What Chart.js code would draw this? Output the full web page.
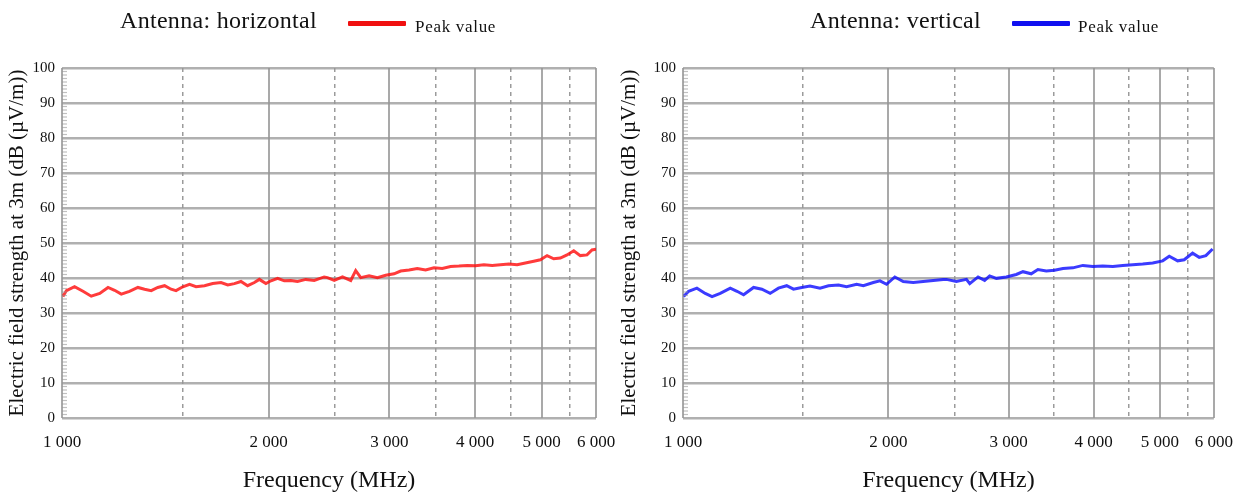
<!DOCTYPE html>
<html>
<head>
<meta charset="utf-8">
<script src="https://cdn.jsdelivr.net/npm/chart.js@4/dist/chart.umd.min.js"></script>
<style>
body{margin:0;background:#fff;width:1247px;height:497px;position:relative;overflow:hidden;font-family:"Liberation Serif",serif;color:#111;}
.cv{position:absolute;top:0}
.ttl{position:absolute;font-size:24px;line-height:24px;white-space:nowrap;letter-spacing:0.3px}
.lg{position:absolute;font-size:17px;line-height:17px;white-space:nowrap;letter-spacing:0.7px}
.sw{position:absolute;height:5px;width:58px;border-radius:1px}
</style>
</head>
<body>
<div class="cv" style="left:0"><canvas id="chartH" width="640" height="497"></canvas></div>
<div class="cv" style="left:612px"><canvas id="chartV" width="635" height="497"></canvas></div>

<div class="ttl" style="left:120px;top:8px">Antenna: horizontal</div>
<div class="sw" style="left:348px;top:21px;background:#f01010"></div>
<div class="lg" style="left:415px;top:18px">Peak value</div>

<div class="ttl" style="left:810px;top:8px">Antenna: vertical</div>
<div class="sw" style="left:1012px;top:21px;background:#1010f0"></div>
<div class="lg" style="left:1078px;top:18px">Peak value</div>

<script>
// tick values
var xMajor = [1000, 2000, 3000, 4000, 5000, 6000];
var xMinor = [1500, 2500, 3500, 4500, 5500];
var yMinor = [1,2,3,4,5,6,7,8,9,11,12,13,14,15,16,17,18,19,21,22,23,24,25,26,27,28,29,
	31,32,33,34,35,36,37,38,39,41,42,43,44,45,46,47,48,49,51,52,53,54,55,56,57,58,59,
	61,62,63,64,65,66,67,68,69,71,72,73,74,75,76,77,78,79,81,82,83,84,85,86,87,88,89,
	91,92,93,94,95,96,97,98,99];

// horizontal antenna, peak value (MHz / dB(uV/m))
var freqH = [1003,1015,1043,1073,1103,1135,1167,1193,1220,1254,1290,1319,1349,1379,1411,1442,1466,1500,1534,1568,
	1613,1658,1705,1744,1783,1823,1864,1907,1939,1982,2016,2062,2108,2155,2204,2266,2331,2410,
	2437,2493,2563,2635,2679,2725,2802,2882,2963,3047,3115,3204,3294,3387,3484,3582,3683,3788,3895,4005,
	4119,4235,4354,4479,4605,4734,4869,4979,5092,5207,5324,5444,5568,5692,5822,5920,6000];
var peakH = [34.7,36.4,37.5,36.2,34.8,35.6,37.3,36.5,35.4,36.2,37.3,36.8,36.4,37.3,37.8,36.8,36.4,37.5,38.2,37.5,
	37.8,38.4,38.7,38.0,38.4,39.0,37.8,38.7,39.6,38.4,39.2,39.9,39.2,39.3,39.0,39.6,39.3,40.3,
	40.1,39.3,40.3,39.3,42.1,40.1,40.6,40.1,40.8,41.2,42.0,42.3,42.7,42.3,42.9,42.7,43.3,43.4,43.6,43.5,
	43.8,43.6,43.8,44.0,43.8,44.3,44.8,45.2,46.4,45.5,45.7,46.6,47.8,46.4,46.6,48.0,48.2];

// vertical antenna, peak value
var freqV = [1002,1019,1048,1078,1103,1134,1173,1200,1227,1269,1305,1342,1380,1419,1452,1493,1535,1588,1634,1690,
	1737,1797,1838,1901,1944,1988,2044,2103,2175,2249,2327,2406,
	2433,2516,2603,2632,2707,2768,2815,2880,2978,3080,3150,3239,3313,3408,3504,3605,3728,3856,3988,4124,
	4266,4412,4563,4719,4881,5048,5161,5309,5428,5584,5710,5840,5974];
var peakV = [34.7,36.2,37.1,35.6,34.7,35.6,37.1,36.2,35.2,37.3,36.8,35.6,37.1,37.8,36.8,37.3,37.7,37.1,37.8,38.0,
	37.5,38.2,37.8,38.7,39.2,38.2,40.3,39.0,38.7,39.0,39.3,39.6,
	39.6,39.0,39.6,38.4,40.3,39.3,40.6,39.9,40.3,41.0,41.8,41.2,42.4,42.0,42.2,42.7,42.9,43.6,43.3,43.4,
	43.3,43.6,43.8,44.0,44.3,44.9,46.2,44.9,45.2,47.1,45.9,46.4,48.3];

var FONT = '"Liberation Serif", "Times New Roman", serif';

function fmt(v) {
	return String(v).replace(/\B(?=(\d{3})+(?!\d))/g, ' ');
}

var minorTicks = {
	id: 'minorTicks',
	afterDatasetsDraw: function (chart) {
		var ctx = chart.ctx, area = chart.chartArea, y = chart.scales.y;
		ctx.save();
		ctx.strokeStyle = 'rgba(150,150,150,0.6)';
		ctx.lineWidth = 1.2;
		yMinor.forEach(function (v) {
			var py = y.getPixelForValue(v);
			ctx.beginPath();
			ctx.moveTo(area.left, py);
			ctx.lineTo(area.left + 5, py);
			ctx.stroke();
		});
		ctx.restore();
	}
};

function makeChart(id, freq, peak, color, yWidth, padRight) {
	var ctx = document.getElementById(id).getContext('2d');
	return new Chart(ctx, {
		type: 'line',
		data: {
			datasets: [{
				label: 'Peak value',
				data: freq.map(function (f, i) { return { x: f, y: peak[i] }; }),
				borderColor: color,
				borderWidth: 3,
				pointRadius: 0,
				tension: 0
			}]
		},
		options: {
			responsive: false,
			animation: false,
			layout: { padding: { left: 0, top: 68, right: padRight, bottom: 0 } },
			plugins: { legend: { display: false }, tooltip: { enabled: false } },
			scales: {
				x: {
					type: 'logarithmic',
					min: 1000,
					max: 6000,
					afterBuildTicks: function (s) { s.ticks = xMajor.map(function (v) { return { value: v }; }); },
					afterFit: function (s) { s.height = 79; },
					ticks: {
						autoSkip: false,
						maxRotation: 0,
						minRotation: 0,
						padding: 14,
						color: '#111',
						font: { family: FONT, size: 17 },
						callback: function (v) { return fmt(v); }
					},
					grid: { color: 'rgba(140,140,140,0.75)', lineWidth: 2, drawTicks: false },
					border: { display: false },
					title: {
						display: true,
						text: 'Frequency (MHz)',
						color: '#111',
						font: { family: FONT, size: 24 },
						padding: { top: 0, bottom: 2 }
					}
				},
				x2: {
					type: 'logarithmic',
					position: 'bottom',
					min: 1000,
					max: 6000,
					afterBuildTicks: function (s) { s.ticks = xMinor.map(function (v) { return { value: v }; }); },
					afterFit: function (s) { s.height = 0; },
					ticks: { display: false },
					grid: { color: 'rgba(130,130,130,0.8)', lineWidth: 1.5, drawTicks: false },
					border: { display: false, dash: [4, 4] }
				},
				y: {
					min: 0,
					max: 100,
					afterFit: function (s) { s.width = yWidth; },
					ticks: {
						stepSize: 10,
						padding: 7,
						color: '#111',
						font: { family: FONT, size: 15 }
					},
					grid: { color: 'rgba(150,150,150,0.75)', lineWidth: 2.5, drawTicks: false },
					border: { display: false },
					title: {
						display: true,
						text: 'Electric field strength at 3m (dB (µV/m))',
						color: '#111',
						font: { family: FONT, size: 21 },
						padding: { top: 5, bottom: 0 }
					}
				}
			}
		},
		plugins: [minorTicks]
	});
}

makeChart('chartH', freqH, peakH, 'rgba(255,10,10,0.8)', 62, 44);
makeChart('chartV', freqV, peakV, 'rgba(10,10,255,0.8)', 71, 32);
</script>
</body>
</html>
